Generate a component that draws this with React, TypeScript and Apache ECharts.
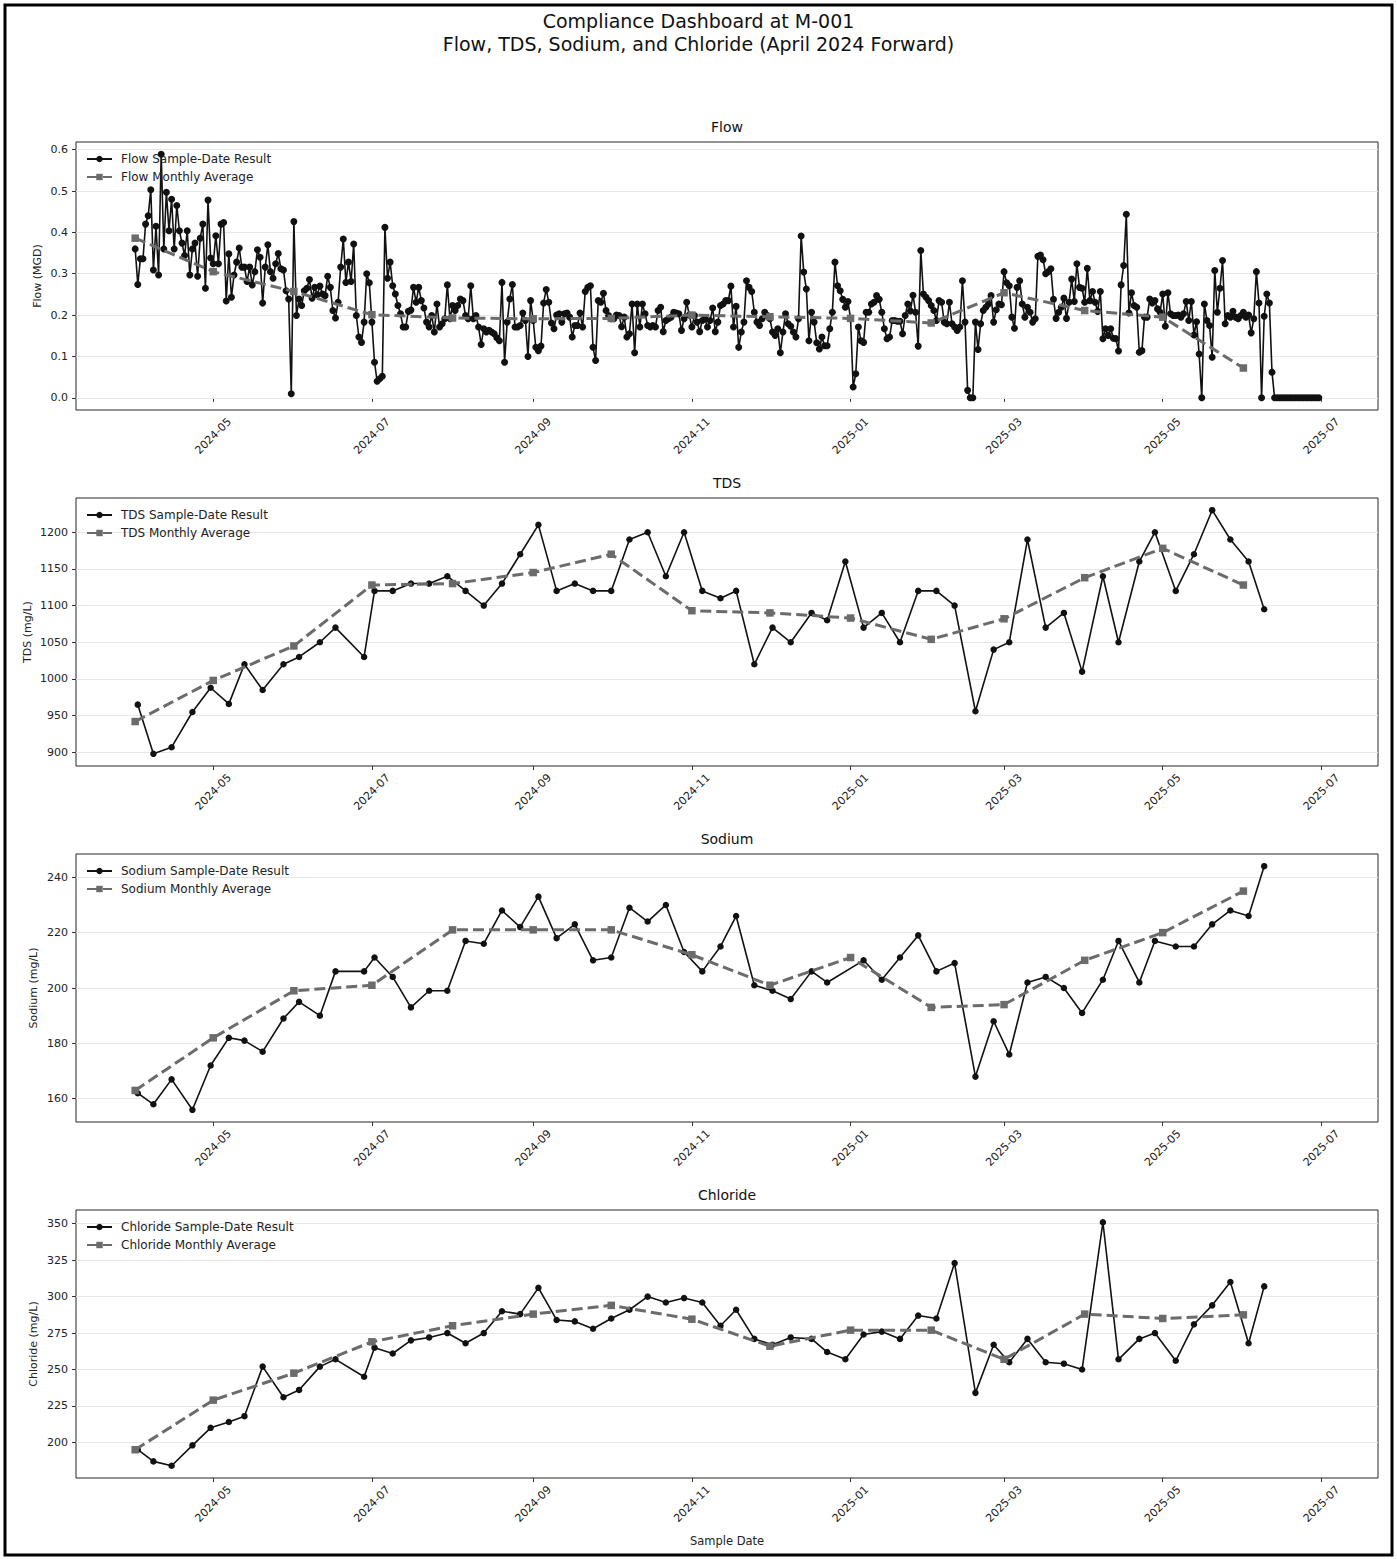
import React, { useEffect, useRef } from 'react';
import * as echarts from 'echarts';

// ---------------- DATA ----------------
const FLOW_START = '2024-04-01';
// daily flow, 2024-04-01 .. 2025-06-30 (MGD)
const flowValues = [
  0.36, 0.274, 0.336, 0.336, 0.42, 0.44, 0.503, 0.309, 0.415, 0.297,
  0.589, 0.36, 0.497, 0.404, 0.48, 0.36, 0.465, 0.404, 0.374, 0.344,
  0.404, 0.297, 0.36, 0.374, 0.294, 0.386, 0.42, 0.265, 0.478, 0.338,
  0.324, 0.392, 0.324, 0.42, 0.424, 0.234, 0.348, 0.243, 0.297, 0.328,
  0.362, 0.316, 0.316, 0.281, 0.316, 0.273, 0.305, 0.358, 0.34, 0.229,
  0.316, 0.37, 0.305, 0.289, 0.324, 0.349, 0.312, 0.309, 0.259, 0.239,
  0.01, 0.426, 0.199, 0.239, 0.223, 0.259, 0.265, 0.286, 0.241, 0.267,
  0.249, 0.27, 0.251, 0.247, 0.294, 0.267, 0.211, 0.193, 0.231, 0.316,
  0.384, 0.279, 0.328, 0.281, 0.372, 0.199, 0.147, 0.134, 0.183, 0.3,
  0.278, 0.183, 0.086, 0.04, 0.046, 0.052, 0.412, 0.289, 0.328, 0.271,
  0.251, 0.223, 0.203, 0.171, 0.171, 0.209, 0.212, 0.267, 0.231, 0.267,
  0.235, 0.217, 0.183, 0.171, 0.199, 0.159, 0.227, 0.171, 0.179, 0.191,
  0.273, 0.191, 0.223, 0.211, 0.223, 0.239, 0.235, 0.199, 0.191, 0.271,
  0.191, 0.199, 0.171, 0.129, 0.167, 0.159, 0.163, 0.159, 0.155, 0.145,
  0.138, 0.279, 0.086, 0.183, 0.239, 0.274, 0.171, 0.171, 0.175, 0.205,
  0.187, 0.1, 0.235, 0.187, 0.122, 0.114, 0.125, 0.229, 0.262, 0.231,
  0.181, 0.167, 0.2, 0.203, 0.183, 0.203, 0.205, 0.195, 0.147, 0.175,
  0.175, 0.205, 0.171, 0.257, 0.267, 0.271, 0.122, 0.09, 0.235, 0.231,
  0.253, 0.211, 0.199, 0.191, 0.191, 0.2, 0.199, 0.172, 0.195, 0.147,
  0.155, 0.227, 0.109, 0.227, 0.171, 0.227, 0.203, 0.175, 0.171, 0.175,
  0.171, 0.211, 0.219, 0.16, 0.187, 0.191, 0.195, 0.207, 0.205, 0.203,
  0.163, 0.191, 0.231, 0.2, 0.171, 0.199, 0.183, 0.16, 0.187, 0.191,
  0.171, 0.187, 0.217, 0.16, 0.183, 0.223, 0.227, 0.235, 0.235, 0.27,
  0.171, 0.221, 0.122, 0.159, 0.183, 0.283, 0.267, 0.257, 0.207, 0.183,
  0.175, 0.191, 0.207, 0.199, 0.191, 0.159, 0.151, 0.167, 0.109, 0.159,
  0.203, 0.179, 0.173, 0.159, 0.147, 0.191, 0.391, 0.304, 0.263, 0.138,
  0.207, 0.183, 0.133, 0.118, 0.147, 0.126, 0.126, 0.167, 0.207, 0.328,
  0.271, 0.259, 0.238, 0.219, 0.233, 0.191, 0.026, 0.058, 0.171, 0.138,
  0.134, 0.207, 0.207, 0.227, 0.231, 0.247, 0.238, 0.207, 0.167, 0.143,
  0.147, 0.187, 0.187, 0.185, 0.185, 0.155, 0.199, 0.227, 0.21, 0.248,
  0.207, 0.125, 0.356, 0.251, 0.243, 0.235, 0.223, 0.211, 0.187, 0.235,
  0.231, 0.183, 0.179, 0.231, 0.179, 0.171, 0.163, 0.171, 0.283, 0.183,
  0.018, 0.0, 0.0, 0.183, 0.117, 0.179, 0.211, 0.219, 0.227, 0.247,
  0.183, 0.213, 0.227, 0.225, 0.305, 0.278, 0.271, 0.195, 0.168, 0.267,
  0.283, 0.227, 0.195, 0.219, 0.207, 0.183, 0.191, 0.342, 0.345, 0.334,
  0.3, 0.305, 0.312, 0.238, 0.192, 0.207, 0.219, 0.241, 0.192, 0.231,
  0.287, 0.233, 0.324, 0.267, 0.265, 0.231, 0.313, 0.235, 0.257, 0.231,
  0.209, 0.257, 0.143, 0.167, 0.151, 0.167, 0.144, 0.143, 0.113, 0.273,
  0.32, 0.444, 0.205, 0.254, 0.223, 0.219, 0.11, 0.114, 0.195, 0.195,
  0.239, 0.229, 0.235, 0.215, 0.207, 0.251, 0.173, 0.254, 0.203, 0.199,
  0.199, 0.2, 0.195, 0.203, 0.233, 0.187, 0.233, 0.152, 0.184, 0.106,
  0.0, 0.227, 0.187, 0.175, 0.098, 0.308, 0.207, 0.265, 0.332, 0.179,
  0.199, 0.195, 0.209, 0.195, 0.191, 0.199, 0.207, 0.195, 0.2, 0.157,
  0.191, 0.305, 0.229, 0.0, 0.197, 0.251, 0.229, 0.062, 0.0, 0.0,
  0.0, 0.0, 0.0, 0.0, 0.0, 0.0, 0.0, 0.0, 0.0, 0.0,
  0.0, 0.0, 0.0, 0.0, 0.0, 0.0,
];

const monthStarts = [
  '2024-04-01', '2024-05-01', '2024-06-01', '2024-07-01', '2024-08-01',
  '2024-09-01', '2024-10-01', '2024-11-01', '2024-12-01', '2025-01-01',
  '2025-02-01', '2025-03-01', '2025-04-01', '2025-05-01', '2025-06-01',
];
const flowMonthly = [0.386, 0.305, 0.257, 0.201, 0.193, 0.191, 0.192, 0.2, 0.196, 0.192, 0.181, 0.254, 0.211, 0.195, 0.072];
const tdsMonthly = [942, 998, 1045, 1128, 1130, 1145, 1170, 1093, 1090, 1083, 1054, 1082, 1138, 1178, 1128];
const sodiumMonthly = [163, 182, 199, 201, 221, 221, 221, 212, 201, 211, 193, 194, 210, 220, 235];
const chlorideMonthly = [195, 229, 247.5, 269, 280, 288, 294, 284.5, 266, 277, 277, 257, 288, 285, 287.5];

const labDates = [
  '2024-04-02', '2024-04-08', '2024-04-15', '2024-04-23', '2024-04-30',
  '2024-05-07', '2024-05-13', '2024-05-20', '2024-05-28',
  '2024-06-03', '2024-06-11', '2024-06-17', '2024-06-28',
  '2024-07-02', '2024-07-09', '2024-07-16', '2024-07-23', '2024-07-30',
  '2024-08-06', '2024-08-13', '2024-08-20', '2024-08-27',
  '2024-09-03', '2024-09-10', '2024-09-17', '2024-09-24',
  '2024-10-01', '2024-10-08', '2024-10-15', '2024-10-22', '2024-10-29',
  '2024-11-05', '2024-11-12', '2024-11-18', '2024-11-25',
  '2024-12-02', '2024-12-09', '2024-12-17', '2024-12-23', '2024-12-30',
  '2025-01-06', '2025-01-13', '2025-01-20', '2025-01-27',
  '2025-02-03', '2025-02-10', '2025-02-18', '2025-02-25',
  '2025-03-03', '2025-03-10', '2025-03-17', '2025-03-24', '2025-03-31',
  '2025-04-08', '2025-04-14', '2025-04-22', '2025-04-28',
  '2025-05-06', '2025-05-13', '2025-05-20', '2025-05-27',
  '2025-06-03', '2025-06-09',
];
const tdsValues = [
  965, 898, 907, 955, 988,
  966, 1020, 985, 1020,
  1030, 1050, 1070, 1030,
  1120, 1120, 1130, 1130, 1140,
  1120, 1100, 1130, 1170,
  1210, 1120, 1130, 1120,
  1120, 1190, 1200, 1140, 1200,
  1120, 1110, 1120, 1020,
  1070, 1050, 1090, 1080, 1160,
  1070, 1090, 1050, 1120,
  1120, 1100, 956, 1040,
  1050, 1190, 1070, 1090, 1010,
  1140, 1050, 1160, 1200,
  1120, 1170, 1230, 1190,
  1160, 1095,
];
const sodiumValues = [
  162, 158, 167, 156, 172,
  182, 181, 177, 189,
  195, 190, 206, 206,
  211, 204, 193, 199, 199,
  217, 216, 228, 222,
  233, 218, 223, 210,
  211, 229, 224, 230, 213,
  206, 215, 226, 201,
  199, 196, 206, 202, null,
  210, 203, 211, 219,
  206, 209, 168, 188,
  176, 202, 204, 200, 191,
  203, 217, 202, 217,
  215, 215, 223, 228,
  226, 244,
];
const chlorideValues = [
  195, 187, 184, 198, 210,
  214, 218, 252, 231,
  236, 252, 257, 245,
  265, 261, 270, 272, 275,
  268, 275, 290, 288,
  306, 284, 283, 278,
  285, 291, 300, 296, 299,
  296, 280, 291, 271,
  267, 272, 271, 262, 257,
  274, 276, 271, 287,
  285, 323, 234, 267,
  255, 271, 255, 254, 250,
  351, 257, 271, 275,
  256, 281, 294, 310,
  268, 307,
];

const xTickLabels = ['2024-05', '2024-07', '2024-09', '2024-11', '2025-01', '2025-03', '2025-05', '2025-07'];
const flowTicks = [0, 0.1, 0.2, 0.3, 0.4, 0.5, 0.6];
const tdsTicks = [900, 950, 1000, 1050, 1100, 1150, 1200];
const sodiumTicks = [160, 180, 200, 220, 240];
const chlorideTicks = [200, 225, 250, 275, 300, 325, 350];

// ---------------- HELPERS ----------------
const DAY = 86400000;
const toTs = (s: string) => Date.parse(s + 'T00:00:00Z');
const X_MIN = toTs('2024-04-01') - 22.75 * DAY;
const X_MAX = toTs('2025-06-30') + 22.75 * DAY;
const xTickTs = xTickLabels.map((s) => toTs(s + '-01'));
const fmtMonth = (v: number) => {
  const d = new Date(v);
  return `${d.getUTCFullYear()}-${String(d.getUTCMonth() + 1).padStart(2, '0')}`;
};

const FONT = 'DejaVu Sans';
const SAMPLE_COLOR = '#111111';
const AVG_COLOR = '#6b6b6b';
const GRID_LEFT = 76;
const GRID_W = 1302;
const GRID_H = 268;
const PANEL_TOPS = [142, 498, 854, 1210];

function buildOption() {
  const flowStart = toTs(FLOW_START);
  const monthTs = monthStarts.map(toTs);
  const labTs = labDates.map(toTs);
  const panels = [
    {
      title: 'Flow', yName: 'Flow (MGD)', key: 'Flow',
      sample: flowValues.map((v, i) => [flowStart + i * DAY, v]),
      monthly: flowMonthly.map((v, i) => [monthTs[i], v]),
      yMin: -0.0295, yMax: 0.6185, ticks: flowTicks, dec: 1, nameGap: 33, sym: 7,
    },
    {
      title: 'TDS', yName: 'TDS (mg/L)', key: 'TDS',
      sample: tdsValues.map((v, i) => [labTs[i], v]),
      monthly: tdsMonthly.map((v, i) => [monthTs[i], v]),
      yMin: 881.4, yMax: 1246.6, ticks: tdsTicks, dec: 0, nameGap: 43, sym: 6.5,
    },
    {
      title: 'Sodium', yName: 'Sodium (mg/L)', key: 'Sodium',
      sample: sodiumValues.map((v, i) => [labTs[i], v]),
      monthly: sodiumMonthly.map((v, i) => [monthTs[i], v]),
      yMin: 151.6, yMax: 248.4, ticks: sodiumTicks, dec: 0, nameGap: 37, sym: 6.5,
    },
    {
      title: 'Chloride', yName: 'Chloride (mg/L)', key: 'Chloride',
      sample: chlorideValues.map((v, i) => [labTs[i], v]),
      monthly: chlorideMonthly.map((v, i) => [monthTs[i], v]),
      yMin: 175.6, yMax: 359.4, ticks: chlorideTicks, dec: 0, nameGap: 37, sym: 6.5,
    },
  ];

  const grid: any[] = [];
  const xAxis: any[] = [];
  const yAxis: any[] = [];
  const series: any[] = [];
  const legend: any[] = [];
  const title: any[] = [
    {
      text: 'Compliance Dashboard at M-001\nFlow, TDS, Sodium, and Chloride (April 2024 Forward)',
      left: 'center',
      top: 9,
      padding: 0,
      textStyle: { fontFamily: FONT, fontSize: 19, fontWeight: 'normal', color: '#111', lineHeight: 23 },
    },
  ];

  panels.forEach((p, i) => {
    const top = PANEL_TOPS[i];
    grid.push({
      left: GRID_LEFT, top, width: GRID_W, height: GRID_H,
      show: true, borderColor: '#262626', borderWidth: 1, backgroundColor: '#fff',
      containLabel: false, outerBoundsMode: 'none',
    });
    title.push({
      text: p.title, left: GRID_LEFT + GRID_W / 2, top: top - 22, textAlign: 'center', padding: 0,
      textStyle: { fontFamily: FONT, fontSize: 14, fontWeight: 'normal', color: '#111' },
    });
    xAxis.push({
      type: 'value', gridIndex: i, min: X_MIN, max: X_MAX,
      axisLine: { show: false },
      splitLine: { show: false },
      axisTick: { show: true, length: 4, customValues: xTickTs, lineStyle: { color: '#333' } },
      axisLabel: {
        customValues: xTickTs, formatter: (v: number) => fmtMonth(v),
        rotate: 45, align: 'center', verticalAlign: 'middle', margin: 26,
        fontFamily: FONT, fontSize: 11, color: '#222',
      },
      ...(i === 3
        ? { name: 'Sample Date', nameLocation: 'middle', nameGap: 57, nameMoveOverlap: false, nameTextStyle: { fontFamily: FONT, fontSize: 11.5, color: '#222' } }
        : {}),
    });
    yAxis.push({
      type: 'value', gridIndex: i, min: p.yMin, max: p.yMax,
      axisLine: { show: false },
      splitLine: { show: false },
      axisTick: { show: true, length: 4, customValues: p.ticks, lineStyle: { color: '#333' } },
      axisLabel: {
        customValues: p.ticks, formatter: (v: number) => v.toFixed(p.dec), margin: 8,
        fontFamily: FONT, fontSize: 11, color: '#222',
      },
      name: p.yName, nameLocation: 'middle', nameGap: p.nameGap, nameMoveOverlap: false,
      nameTextStyle: { fontFamily: FONT, fontSize: 11, color: '#222' },
    });
    // light horizontal grid lines
    series.push({
      type: 'line', xAxisIndex: i, yAxisIndex: i, data: p.monthly, silent: true,
      symbol: 'none', lineStyle: { opacity: 0 }, z: 1,
      markLine: {
        silent: true, symbol: ['none', 'none'], label: { show: false }, z: 1,
        lineStyle: { color: '#e8e8e8', width: 1, type: 'solid' },
        data: p.ticks.map((v) => ({ yAxis: v })),
      },
    });
    const sName = `${p.key} Sample-Date Result`;
    const aName = `${p.key} Monthly Average`;
    series.push({
      type: 'line', name: sName, xAxisIndex: i, yAxisIndex: i, data: p.sample,
      symbol: 'circle', symbolSize: p.sym, showAllSymbol: true, connectNulls: true,
      itemStyle: { color: SAMPLE_COLOR }, lineStyle: { color: SAMPLE_COLOR, width: 1.6 }, z: 3,
    });
    series.push({
      type: 'line', name: aName, xAxisIndex: i, yAxisIndex: i, data: p.monthly,
      symbol: 'rect', symbolSize: 7.5, showAllSymbol: true,
      itemStyle: { color: AVG_COLOR }, lineStyle: { color: AVG_COLOR, width: 3, type: [11, 5] }, z: 4,
    });
    legend.push({
      data: [sName, aName], left: 86, top: top + 11, orient: 'vertical', padding: 0,
      itemWidth: 25, itemHeight: 8, itemGap: 6,
      textStyle: { fontFamily: FONT, fontSize: 12, color: '#222', padding: [0, 0, 0, 4] },
    });
  });

  return {
    animation: false,
    backgroundColor: '#fff',
    textStyle: { fontFamily: FONT },
    title,
    grid,
    xAxis,
    yAxis,
    legend,
    series,
    graphic: [
      {
        type: 'rect', silent: true, z: 100,
        shape: { x: 5, y: 5, width: 1387, height: 1550 },
        style: { fill: 'none', stroke: '#000', lineWidth: 3 },
      },
    ],
  };
}

export default function App() {
  const ref = useRef<HTMLDivElement>(null);
  useEffect(() => {
    if (!ref.current) return;
    const chart = echarts.init(ref.current, null, { renderer: 'svg' });
    chart.setOption(buildOption() as any);
    return () => chart.dispose();
  }, []);
  return (
    <div
      ref={ref}
      style={{ position: 'absolute', left: 0, top: 0, width: 1397, height: 1559, background: '#fff' }}
    />
  );
}
